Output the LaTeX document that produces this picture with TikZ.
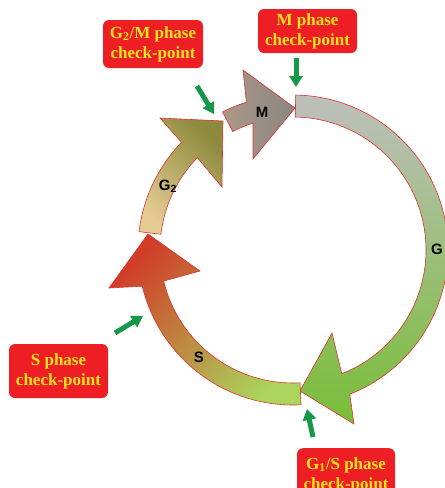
\documentclass[tikz,border=0pt]{standalone}
\usepackage{fontspec}
\setmainfont{Liberation Serif}
\newfontfamily\arialfont{Liberation Sans}
\usetikzlibrary{arrows.meta}
\definecolor{boxred}{RGB}{237,30,36}
\definecolor{boxyellow}{RGB}{250,228,30}
\definecolor{arrgreen}{RGB}{22,152,72}
\definecolor{ringline}{RGB}{222,50,50}
\definecolor{gtwotop}{RGB}{140,138,60}
\definecolor{gtwobot}{RGB}{228,204,146}
\definecolor{mleft}{RGB}{172,152,136}
\definecolor{mright}{RGB}{138,134,130}
\definecolor{gonetop}{RGB}{190,191,188}
\definecolor{gonemid}{RGB}{158,205,145}
\definecolor{gonebot}{RGB}{120,190,55}
\definecolor{sred}{RGB}{208,62,40}
\definecolor{sorange}{RGB}{196,138,50}
\definecolor{sgreen}{RGB}{170,212,92}
\begin{document}
\begin{tikzpicture}[x=1pt,y=-1pt,
  cbox/.style={fill=boxred, rounded corners=6pt, text=boxyellow,
    font=\fontsize{17}{20}\selectfont\bfseries, align=center, inner sep=0pt},
  garrow/.style={draw=arrgreen, line width=5pt, -{Triangle[length=11pt,width=13pt]}},
  band/.style={draw=ringline, line width=0.6pt},
  phase/.style={font=\arialfont\bfseries\fontsize{15}{16}\selectfont, text=black, inner sep=0pt}]
\useasboundingbox (0,0) rectangle (445,488);

\begin{scope}[shift={(293,250)}, yscale=-1]
  % G2
  \path[band, top color=gtwotop, bottom color=gtwobot, shading angle=-45]
    (173.2:155) arc[start angle=173.2, end angle=136, radius=155]
    -- (-133,132) -- (-70,129) -- (-71,63)
    -- (136:133) arc[start angle=136, end angle=173.2, radius=133] -- cycle;
  % M
  \path[band, left color=mleft, right color=mright]
    (117:155) arc[start angle=117, end angle=107.5, radius=155]
    -- (-50,180) -- (2,142) -- (-40,91)
    -- (107.5:133) arc[start angle=107.5, end angle=117, radius=133] -- cycle;
  % G1
  \path[band, top color=gonetop, middle color=gonemid, bottom color=gonebot]
    (89:155) arc[start angle=89, end angle=-68.5, radius=155]
    -- (61,-174) -- (7,-141) -- (39,-83)
    -- (-68.5:133) arc[start angle=-68.5, end angle=89, radius=133] -- cycle;
  % S
  \path[band, top color=sred, middle color=sorange, bottom color=sgreen, shading angle=45]
    (-87:155) arc[start angle=-87, end angle=-166.5, radius=155]
    -- (-184,-38) -- (-145,16) -- (-93,-21)
    -- (-166.5:133) arc[start angle=-166.5, end angle=-87, radius=133] -- cycle;
\end{scope}

% phase labels
\node[phase] (lm) at (262,112) {M};
\node[phase] (lg2) at (168,186) {G\textsubscript{2}};
\node[phase] (ls) at (199,357) {S};
\node[phase, anchor=west] (lg1) at (431,249) {G};

% check-point boxes
\node[cbox, minimum width=100pt, minimum height=48pt] (bg2m) at (153,44) {G\textsubscript{2}/M phase\\check-point};
\node[cbox, minimum width=99pt, minimum height=44pt] (bm) at (307.5,31) {M phase\\check-point};
\node[cbox, minimum width=99pt, minimum height=54pt] (bs) at (58.5,371) {S phase\\check-point};
\node[cbox, minimum width=98pt, minimum height=54pt, anchor=north] (bg1s) at (346,448) {G\textsubscript{1}/S phase\\check-point};

% green arrows
\coordinate (a1s) at (197,86);  \coordinate (a1e) at (214,114);
\coordinate (a2s) at (296,58);  \coordinate (a2e) at (296,87);
\coordinate (a3s) at (115,333); \coordinate (a3e) at (143,316);
\coordinate (a4s) at (313,437); \coordinate (a4e) at (307,409);
\draw[garrow] (a1s) -- (a1e);
\draw[garrow] (a2s) -- (a2e);
\draw[garrow] (a3s) -- (a3e);
\draw[garrow] (a4s) -- (a4e);
\end{tikzpicture}
\end{document}
